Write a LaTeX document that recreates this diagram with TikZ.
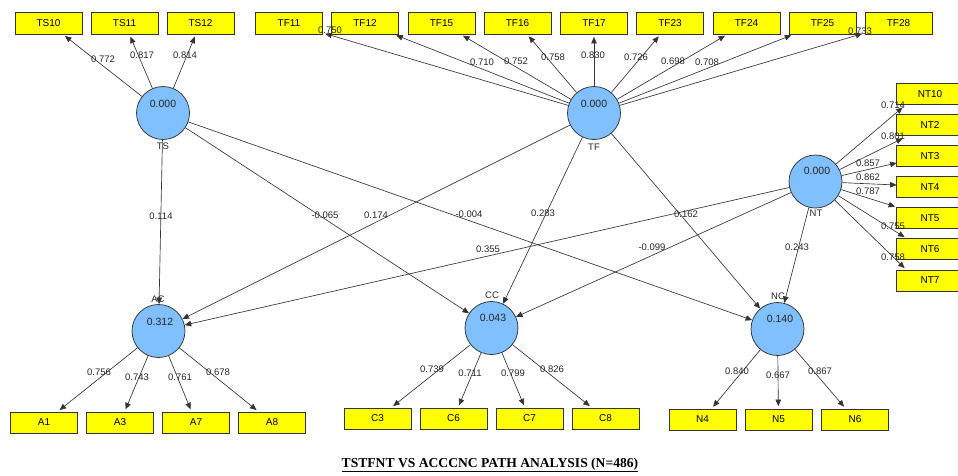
\documentclass[tikz,border=0pt]{standalone}
\usepackage{fontspec}
\setmainfont{Liberation Sans}
\newfontfamily\titlefont{Liberation Serif}
\usetikzlibrary{arrows.meta,calc}
\definecolor{lvfill}{HTML}{80C0FF}
\definecolor{indfill}{HTML}{FFFF00}
\definecolor{edgecol}{HTML}{333333}
\begin{document}
\begin{tikzpicture}[x=1pt,y=-1pt,
  latent/.style={circle,draw=edgecol,fill=lvfill,minimum size=53pt,inner sep=0pt,line width=0.75pt},
  ind/.style={rectangle,draw=edgecol,fill=indfill,minimum width=67pt,minimum height=22pt,inner sep=0pt,font=\fontsize{10}{12}\selectfont,line width=0.75pt},
  indlow/.style={ind,minimum height=21pt},
  val/.style={font=\fontsize{10.5}{12}\selectfont,text=black!85,inner sep=0pt},
  lvname/.style={font=\fontsize{9.5}{11}\selectfont,text=black!85,inner sep=0pt},
  num/.style={font=\fontsize{9.5}{11}\selectfont,text=black!85,inner sep=0pt},
  link/.style={draw=edgecol,line width=0.65pt,-{Triangle[length=6.5pt,width=5.5pt]}},
  load/.style={link,shorten >=2.5pt},
]
\useasboundingbox (0,0) rectangle (958,475);

% latent variables
\node[latent] (ts) at (163,113) {};
\node[latent] (tf) at (594,113) {};
\node[latent] (nt) at (815.5,181.5) {};
\node[latent] (ac) at (158.5,331) {};
\node[latent] (cc) at (491.5,328) {};
\node[latent] (nc) at (777.5,329) {};

\node[val] (tsv) at (163,104) {0.000};
\node[val] (tfv) at (594,104) {0.000};
\node[val] (ntv) at (817,171) {0.000};
\node[val] (acv) at (160,322) {0.312};
\node[val] (ccv) at (493,318) {0.043};
\node[val] (ncv) at (780,319) {0.140};

\node[lvname] (tsn) at (163,146) {TS};
\node[lvname] (tfn) at (594,147) {TF};
\node[lvname] (ntn) at (816,213) {NT};
\node[lvname] (acn) at (158,299) {AC};
\node[lvname] (ccn) at (492,295) {CC};
\node[lvname] (ncn) at (778,296) {NC};

% indicators, top row
\foreach \n/\x in {TS10/48.5,TS11/124.5,TS12/200.5,TF11/289,TF12/365,TF15/441.5,TF16/517.5,TF17/594,TF23/670,TF24/746.5,TF25/822.5,TF28/898.5}
  \node[ind] (\n) at (\x,23) {\n};
% indicators, right column
\foreach \n/\y in {NT10/94,NT2/125,NT3/156,NT4/187,NT5/218,NT6/249,NT7/280.5}
  \node[indlow] (\n) at (930,\y) {\n};
% indicators, bottom row
\foreach \n/\x in {A1/44,A3/120,A7/196,A8/272}
  \node[indlow] (\n) at (\x,422.5) {\n};
\foreach \n/\x in {C3/377.5,C6/453.5,C7/529.5,C8/605.5}
  \node[indlow] (\n) at (\x,418.5) {\n};
\foreach \n/\x in {N4/702.5,N5/778.5,N6/855}
  \node[indlow] (\n) at (\x,419.5) {\n};

% outer loadings
\foreach \n in {TS10,TS11,TS12} \draw[load] (ts) -- (\n);
\foreach \n in {TF11,TF12,TF15,TF16,TF17,TF23,TF24,TF25,TF28} \draw[load] (tf) -- (\n);
\foreach \n in {A1,A3,A7,A8} \draw[load] (ac) -- (\n);
\foreach \n in {C3,C6,C7,C8} \draw[load] (cc) -- (\n);
\foreach \n in {N4,N5,N6} \draw[load] (nc) -- (\n);
\draw[link] (nt) -- ([shift={(6.5,2.5)}]NT10.south west);
\draw[link] (nt) -- ([shift={(6.5,2.5)}]NT2.south west);
\draw[link] (nt) -- ([shift={(0.5,7)}]NT3.west);
\draw[link] (nt) -- ([shift={(0.5,-2)}]NT4.west);
\draw[link] (nt) -- ([shift={(-1,-0.5)}]NT5.north west);
\draw[link] (nt) -- ([shift={(8.5,-1)}]NT6.north west);
\draw[link] (nt) -- ([shift={(8.5,-1.5)}]NT7.north west);

% structural paths
\draw[link] (ts) -- (ac);
\draw[link] (ts) -- (cc);
\draw[link] (ts) -- (nc);
\draw[link] (tf) -- (ac);
\draw[link] (tf) -- (cc);
\draw[link] (tf) -- (nc);
\draw[link] (nt) -- (ac);
\draw[link] (nt) -- (cc);
\draw[link] (nt) -- (nc);

% loading values
\foreach \v/\x/\y [count=\i] in {0.772/103/59,0.817/142/55,0.814/185/55,
  0.750/330/30,0.710/482/62,0.752/516/61,0.758/553/57,0.830/593/55,0.726/636/57,0.698/673/61,0.708/707/62,0.733/860/31,
  0.714/893/105,0.801/893/136,0.857/868/163,0.862/868/177,0.787/868/191,0.755/893/226,0.758/893/257,
  0.756/99/372,0.743/137/377,0.761/180/377,0.678/218/372,
  0.739/432/369,0.711/470/373,0.799/513/373,0.826/552/369,
  0.840/737/371,0.667/778/375,0.867/820/371}
  \node[num] (ld\i) at (\x,\y) {\v};

% path coefficients
\foreach \v/\x/\y [count=\i] in {0.114/161/216,-0.065/325/215,0.174/376/215,-0.004/469/214,0.283/543/213,0.162/686/214,0.355/488/249,-0.099/652/247,0.243/797/247}
  \node[num] (pc\i) at (\x,\y) {\v};

\node[font=\titlefont\bfseries\fontsize{13.6}{16}\selectfont,inner sep=0pt] (title) at (490,465) {\underline{TSTFNT VS ACCCNC PATH ANALYSIS (N=486)}};
\end{tikzpicture}
\end{document}
